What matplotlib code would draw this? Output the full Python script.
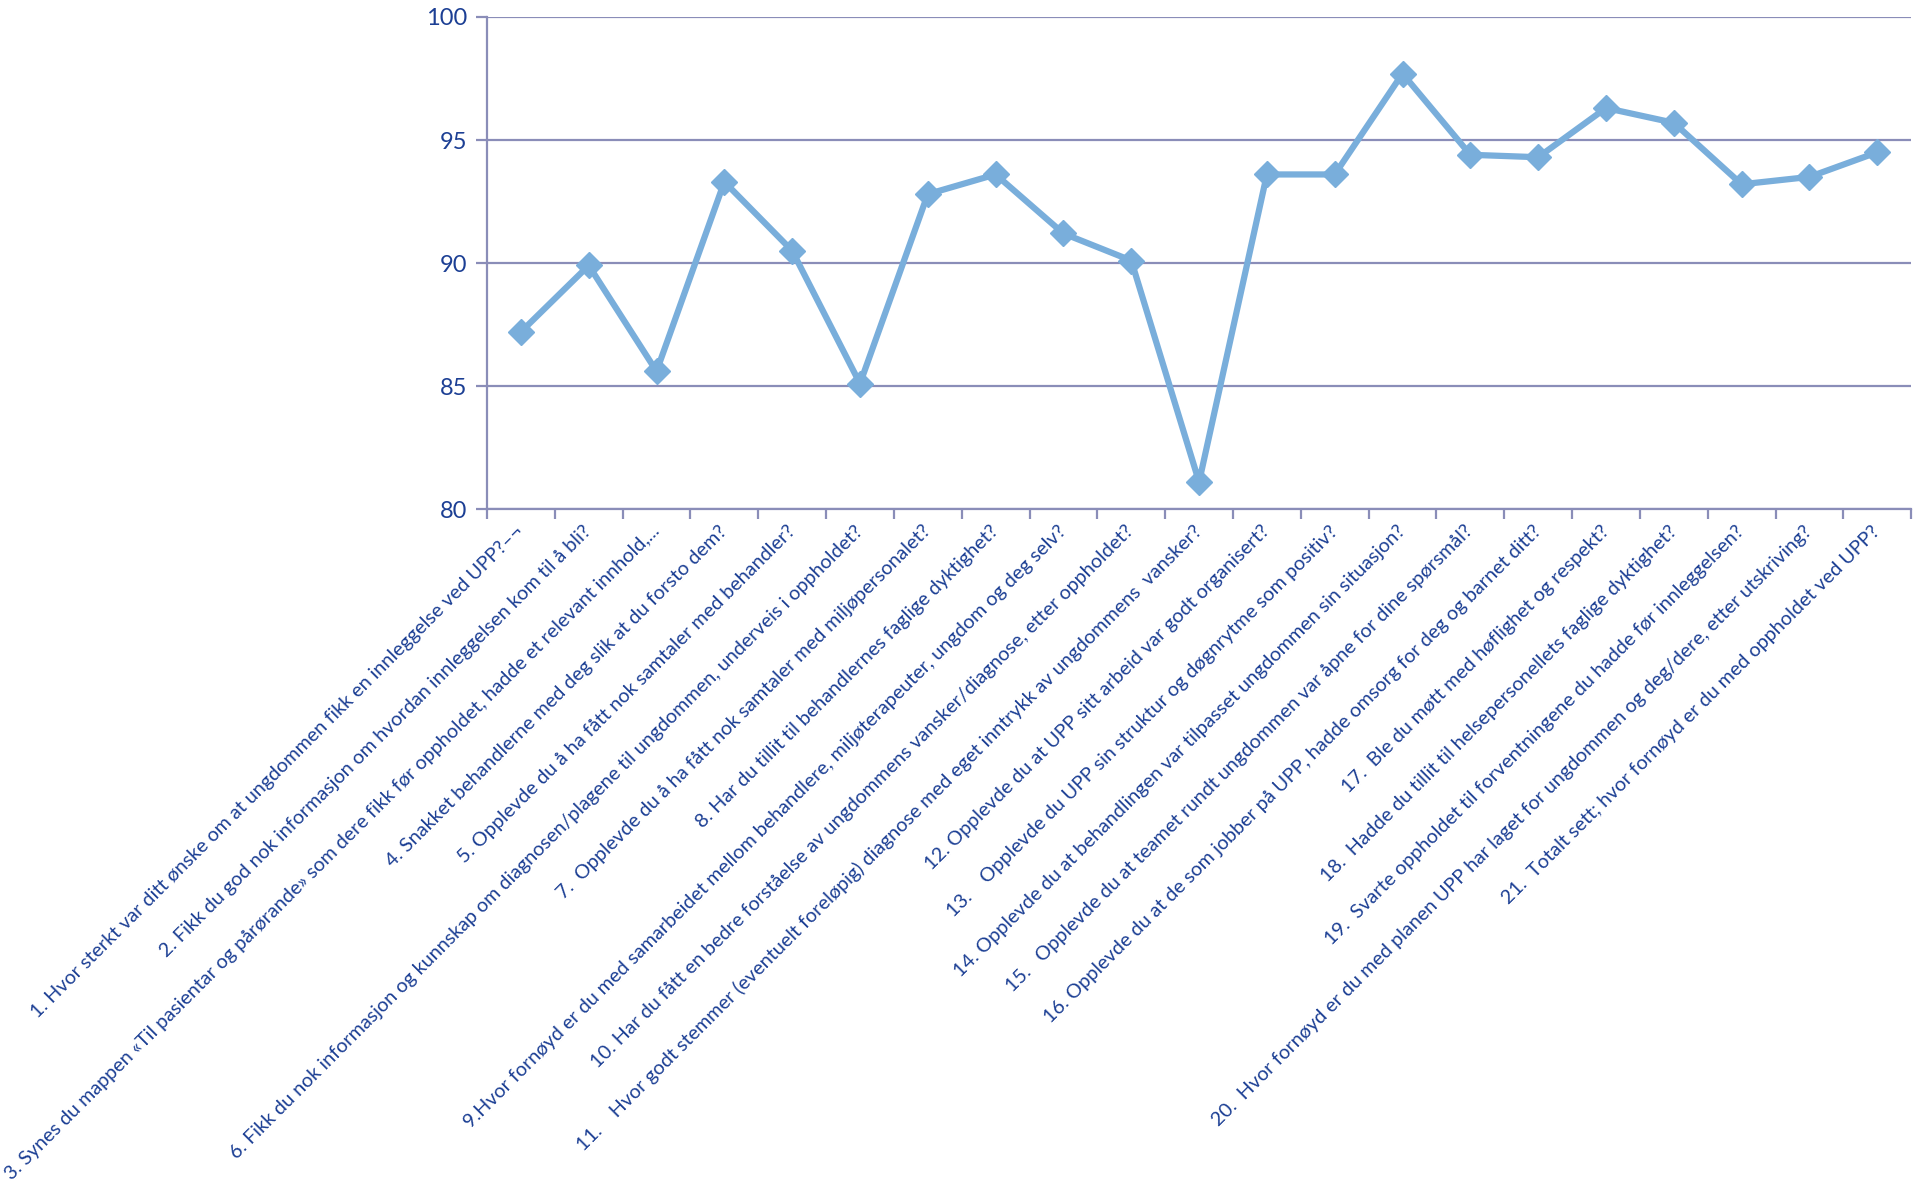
import matplotlib
matplotlib.use("Agg")
import matplotlib.pyplot as plt
import numpy as np

categories = [
    "1. Hvor sterkt var ditt ønske om at ungdommen fikk en innleggelse ved UPP?–¬",
    "2. Fikk du god nok informasjon om hvordan innleggelsen kom til å bli?",
    "3. Synes du mappen «Til pasientar og pårørande» som dere fikk før oppholdet, hadde et relevant innhold,...",
    "4. Snakket behandlerne med deg slik at du forsto dem?",
    "5. Opplevde du å ha fått nok samtaler med behandler?",
    "6. Fikk du nok informasjon og kunnskap om diagnosen/plagene til ungdommen, underveis i oppholdet?",
    "7.  Opplevde du å ha fått nok samtaler med miljøpersonalet?",
    "8. Har du tillit til behandlernes faglige dyktighet?",
    "9.Hvor fornøyd er du med samarbeidet mellom behandlere, miljøterapeuter, ungdom og deg selv?",
    "10. Har du fått en bedre forståelse av ungdommens vansker/diagnose, etter oppholdet?",
    "11.    Hvor godt stemmer (eventuelt foreløpig) diagnose med eget inntrykk av ungdommens  vansker?",
    "12. Opplevde du at UPP sitt arbeid var godt organisert?",
    "13.    Opplevde du UPP sin struktur og døgnrytme som positiv?",
    "14. Opplevde du at behandlingen var tilpasset ungdommen sin situasjon?",
    "15.   Opplevde du at teamet rundt ungdommen var åpne for dine spørsmål?",
    "16. Opplevde du at de som jobber på UPP, hadde omsorg for deg og barnet ditt?",
    "17.  Ble du møtt med høflighet og respekt?",
    "18.  Hadde du tillit til helsepersonellets faglige dyktighet?",
    "19.  Svarte oppholdet til forventningene du hadde før innleggelsen?",
    "20.  Hvor fornøyd er du med planen UPP har laget for ungdommen og deg/dere, etter utskriving?",
    "21.  Totalt sett; hvor fornøyd er du med oppholdet ved UPP?",
]

values = [87.2, 89.9, 85.6, 93.3, 90.5, 85.1, 92.8, 93.6, 91.2, 90.1, 81.1,
          93.6, 93.6, 97.7, 94.4, 94.3, 96.3, 95.7, 93.2, 93.5, 94.5]

y_ticks = [80, 85, 90, 95, 100]

TEXT = "#1c3f94"
GRID = "#8a8db8"
LINE = "#79aedb"

plt.rcParams['font.family'] = ['Lato', 'DejaVu Sans']

fig = plt.figure(figsize=(19.15, 11.88), dpi=100)
ax = fig.add_axes([0.2543, 0.5715, 0.7437, 0.4142])

x = np.arange(len(values))
ax.plot(x, values, color=LINE, lw=4.5, marker='D', markersize=13,
        markerfacecolor=LINE, markeredgecolor=LINE, zorder=3, clip_on=False)

ax.set_xlim(-0.5, len(values) - 0.5)
ax.set_ylim(80, 100)
ax.set_yticks(y_ticks)
ax.set_yticklabels([str(v) for v in y_ticks], fontsize=17, color=TEXT)
ax.yaxis.grid(True, color=GRID, lw=1.6)
ax.set_axisbelow(True)

ax.set_xticks(x)
ax.set_xticklabels(categories, rotation=45, ha='right', va='center',
                   rotation_mode='anchor', fontsize=14.2, color=TEXT)
ax.set_xticks(np.arange(-0.5, len(values), 1.0), minor=True)
ax.tick_params(axis='x', which='major', length=0, pad=14)
ax.tick_params(axis='x', which='minor', length=7, width=1.6, color=GRID)
ax.tick_params(axis='y', which='major', length=8, width=1.6, color=GRID, pad=6)

for s in ['top', 'right']:
    ax.spines[s].set_visible(False)
for s in ['left', 'bottom']:
    ax.spines[s].set_color(GRID)
    ax.spines[s].set_linewidth(1.6)

fig.savefig("out.png", dpi=100)
